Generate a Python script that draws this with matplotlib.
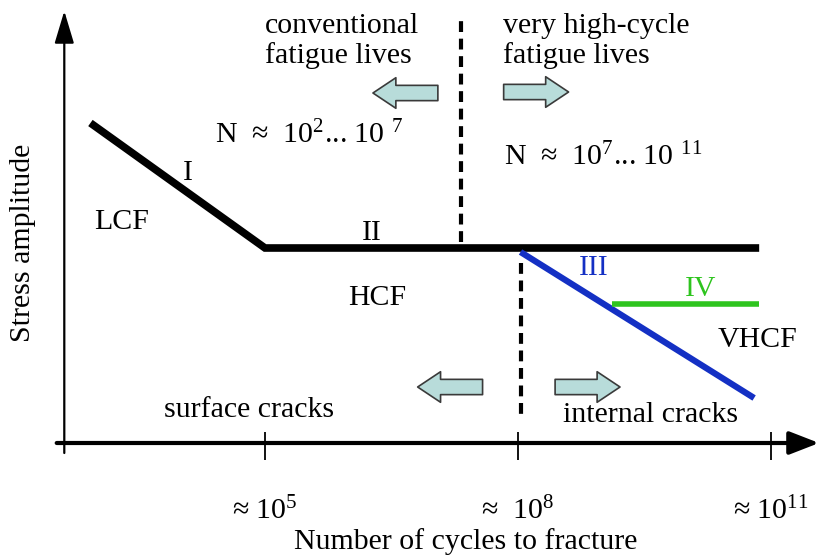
import numpy as np
import matplotlib
matplotlib.use("Agg")
import matplotlib.pyplot as plt

plt.rcParams['font.family'] = ['Liberation Serif', 'DejaVu Serif']
plt.rcParams['mathtext.fontset'] = 'custom'
plt.rcParams['mathtext.rm'] = 'Liberation Serif'
plt.rcParams['mathtext.it'] = 'Liberation Serif:italic'

# schematic S-N curve (log10 N, stress in arbitrary units)
lcf_logN = [2.93, 5.0]
lcf_stress = [320, 195]
hcf_logN = [5.0, 10.86]
hcf_stress = [195, 195]
vhcf_logN = [8.03, 10.80]          # stage III, internal cracks
vhcf_stress = [191, 45]
limit_logN = [9.11, 10.86]         # stage IV
limit_stress = [139, 139]
tick_logN = [5, 8, 11]
tick_labels = ["≈ $10^{5}$", "≈  $10^{8}$", "≈ $10^{11}$"]

BLUE = '#1430c4'
GREEN = '#2ec41e'
FS = 21.5

fig = plt.figure(figsize=(8.2, 5.55), dpi=100)
ax = fig.add_axes([0, 0, 1, 1])
ax.set_xscale('log')
ax.set_xlim(10 ** (5 - 265 / 84.33), 10 ** (5 + 555 / 84.33))
ax.set_ylim(-112, 443)
ax.axis('off')

N = lambda v: np.power(10.0, v)

# axes with arrows
ax.annotate('', xy=(N(11.57), 0), xytext=(N(2.53), 0), annotation_clip=False,
            arrowprops=dict(arrowstyle='-|>,head_length=0.9,head_width=0.35',
                            lw=3, color='black', shrinkA=0, shrinkB=0, mutation_scale=20))
ax.annotate('', xy=(N(2.62), 432), xytext=(N(2.62), -10), annotation_clip=False,
            arrowprops=dict(arrowstyle='-|>,head_length=1.0,head_width=0.3',
                            lw=1.6, color='black', shrinkA=0, shrinkB=0, mutation_scale=20))
ax.vlines(N(np.array(tick_logN)), -17, 11, color='black', lw=1.3)
for t, lab in zip(tick_logN, tick_labels):
    ax.text(N(t), -68, lab, ha='center', va='center', fontsize=FS)

# curves
ax.plot(N(np.array(lcf_logN + hcf_logN[1:])), lcf_stress + hcf_stress[1:],
        color='black', lw=5.5, solid_joinstyle='miter', solid_capstyle='butt')
ax.plot(N(np.array(vhcf_logN)), vhcf_stress, color=BLUE, lw=4.5, solid_capstyle='butt')
ax.plot(N(np.array(limit_logN)), limit_stress, color=GREEN, lw=4, solid_capstyle='butt')

# regime boundaries
ax.plot([N(7.32)] * 2, [201, 428], color='black', lw=3, ls=(0, (2.6, 1.6)))
ax.plot([N(8.04)] * 2, [180, 23], color='black', lw=3, ls=(0, (2.6, 1.6)))

# block arrows
def block_arrow(x_from, x_to, y):
    ax.annotate('', xy=(N(x_to), y), xytext=(N(x_from), y),
                arrowprops=dict(arrowstyle='simple,head_length=0.75,head_width=1.0,tail_width=0.5',
                                fc='#b8dcda', ec='#3a3a3a', lw=1.2, shrinkA=0, shrinkB=0,
                                mutation_scale=22))

block_arrow(7.05, 6.28, 350)
block_arrow(7.83, 8.6, 351)
block_arrow(7.58, 6.81, 56)
block_arrow(8.44, 9.21, 56)

# labels
ax.text(N(5.0), 430, "conventional\nfatigue lives", ha='left', va='top', fontsize=FS, linespacing=1.15)
ax.text(N(7.82), 430, "very high-cycle\nfatigue lives", ha='left', va='top', fontsize=FS, linespacing=1.15)
ax.text(N(4.41), 308, "N  ≈  $10^{2}$... 10 $^{7}$", ha='left', va='center', fontsize=FS)
ax.text(N(7.83), 286, "N  ≈  $10^{7}$... 10 $^{11}$", ha='left', va='center', fontsize=FS)
ax.text(N(4.09), 270, "I", ha='center', va='center', fontsize=FS)
ax.text(N(6.27), 210, "II", ha='center', va='center', fontsize=FS)
ax.text(N(8.90), 175, "III", ha='center', va='center', fontsize=FS, color=BLUE)
ax.text(N(10.17), 154, "IV", ha='center', va='center', fontsize=FS, color=GREEN)
ax.text(N(3.30), 221, "LCF", ha='center', va='center', fontsize=FS)
ax.text(N(6.33), 145, "HCF", ha='center', va='center', fontsize=FS)
ax.text(N(10.84), 103, "VHCF", ha='center', va='center', fontsize=FS)
ax.text(N(4.81), 33, "surface cracks", ha='center', va='center', fontsize=FS)
ax.text(N(8.53), 28, "internal cracks", ha='left', va='center', fontsize=FS)
ax.text(N(7.38), -99, "Number of cycles to fracture", ha='center', va='center', fontsize=FS)
ax.text(N(2.13), 200, "Stress amplitude", ha='center', va='center', fontsize=FS, rotation=90)

fig.savefig('out.png', dpi=100)
